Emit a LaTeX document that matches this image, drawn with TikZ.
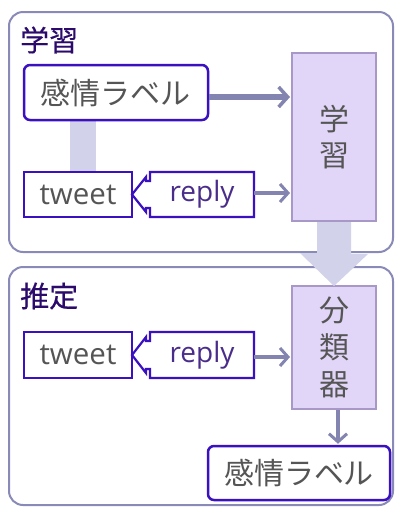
\documentclass[tikz,border=0pt]{standalone}
\usepackage{fontspec}
\setmainfont{Noto Sans CJK JP}
\newfontfamily\latinfont{Open Sans}
\newfontfamily\titlefont[FakeBold=0.5]{Noto Sans CJK JP}
\usetikzlibrary{arrows.meta}
\definecolor{frame}{HTML}{8A8AB8}
\definecolor{boxline}{HTML}{3A10C0}
\definecolor{txtgray}{HTML}{555555}
\definecolor{replytxt}{HTML}{4A2D8A}
\definecolor{titlecol}{HTML}{2B0A6B}
\definecolor{arr}{HTML}{8484B0}
\definecolor{barcol}{HTML}{D2D2EA}
\definecolor{procfill}{HTML}{E2D6F8}
\definecolor{procline}{HTML}{A898C8}
\tikzset{
  outer/.style={draw=frame, line width=2pt, rounded corners=14pt, fill=white},
  labelbox/.style={draw=boxline, line width=2.5pt, rounded corners=6pt, fill=white, inner sep=0pt,
    text=txtgray, font=\fontsize{30}{34}\selectfont},
  tweetbox/.style={draw=boxline, line width=2.2pt, fill=white, inner sep=0pt,
    text=txtgray, font=\latinfont\fontsize{29.5}{32}\selectfont},
  replytext/.style={inner sep=0pt, text=replytxt, font=\latinfont\fontsize{28}{32}\selectfont},
  proc/.style={draw=procline, line width=2pt, fill=procfill, inner sep=0pt,
    text=txtgray, align=center},
  titletext/.style={inner sep=0pt, text=titlecol, font=\titlefont\fontsize{29}{30}\selectfont, anchor=west},
  flow/.style={draw=arr, line width=4pt, -{Straight Barb[length=8pt,width=18pt,line width=3pt]}},
  flowthick/.style={draw=arr, line width=5.5pt, -{Straight Barb[length=9pt,width=20pt,line width=3.5pt]}},
  replyshape/.style={draw=boxline, line width=2.2pt, fill=white, line join=miter},
}
\begin{document}
\begin{tikzpicture}[x=1pt,y=-1pt]
\useasboundingbox (0,0) rectangle (395,507);
\fill[white] (0,0) rectangle (395,507);

% outer frames
\draw[outer] (9,12) rectangle (393,252);
\draw[outer] (9,267) rectangle (393,505);

\node[titletext] (t1) at (20,40) {学習};
\node[titletext] (t2) at (20,296) {推定};

% ---- learning part
\fill[barcol] (70,118) rectangle (96,174);
\node[labelbox, minimum width=184pt, minimum height=55pt] (lab1) at (116,92.5) {感情ラベル};
\node[tweetbox, minimum width=108pt, minimum height=45pt] (tw1) at (78,194.5) {tweet};
\draw[replyshape] (150,172) -- (150,181) -- (146,181) -- (146,177) -- (132,194.5) -- (146,212) -- (146,208) -- (150,208) -- (150,217) -- (254,217) -- (254,172) -- cycle;
\node[replytext] (rp1) at (202,194.5) {reply};
\node[proc, minimum width=84pt, minimum height=168pt, font=\fontsize{30}{36}\selectfont] (learn) at (334,137) {学\\習};

\draw[flowthick] ([yshift=-4.5pt]lab1.east) -- ([xshift=-1pt]learn.west |- 0,97);
\draw[flow] (254,193) -- ([xshift=-1pt]learn.west |- 0,193);

% ---- estimation part
\node[tweetbox, minimum width=108pt, minimum height=46pt] (tw2) at (78,355) {tweet};
\draw[replyshape] (150,332) -- (150,341) -- (146,341) -- (146,337) -- (132,355) -- (146,373) -- (146,369) -- (150,369) -- (150,378) -- (254,378) -- (254,332) -- cycle;
\node[replytext] (rp2) at (202,355) {reply};
\node[proc, minimum width=84pt, minimum height=123pt, font=\fontsize{30}{37}\selectfont] (cls) at (334,347.5) {分\\類\\器};
\node[labelbox, minimum width=182pt, minimum height=54pt] (lab2) at (299,473) {感情ラベル};

\draw[flow] (254,357) -- ([xshift=-1pt]cls.west |- 0,357);
\draw[flow] ([xshift=4pt]cls.south) -- ([xshift=4pt,yshift=1pt]cls.south |- lab2.north);

% big transfer arrow
\fill[barcol] (learn.south) ++(-17,0) -- ++(34,0) -- ++(0,32) -- ++(17,0) -- (334,286) -- (300,253) -- (317,253) -- cycle;
\end{tikzpicture}
\end{document}
